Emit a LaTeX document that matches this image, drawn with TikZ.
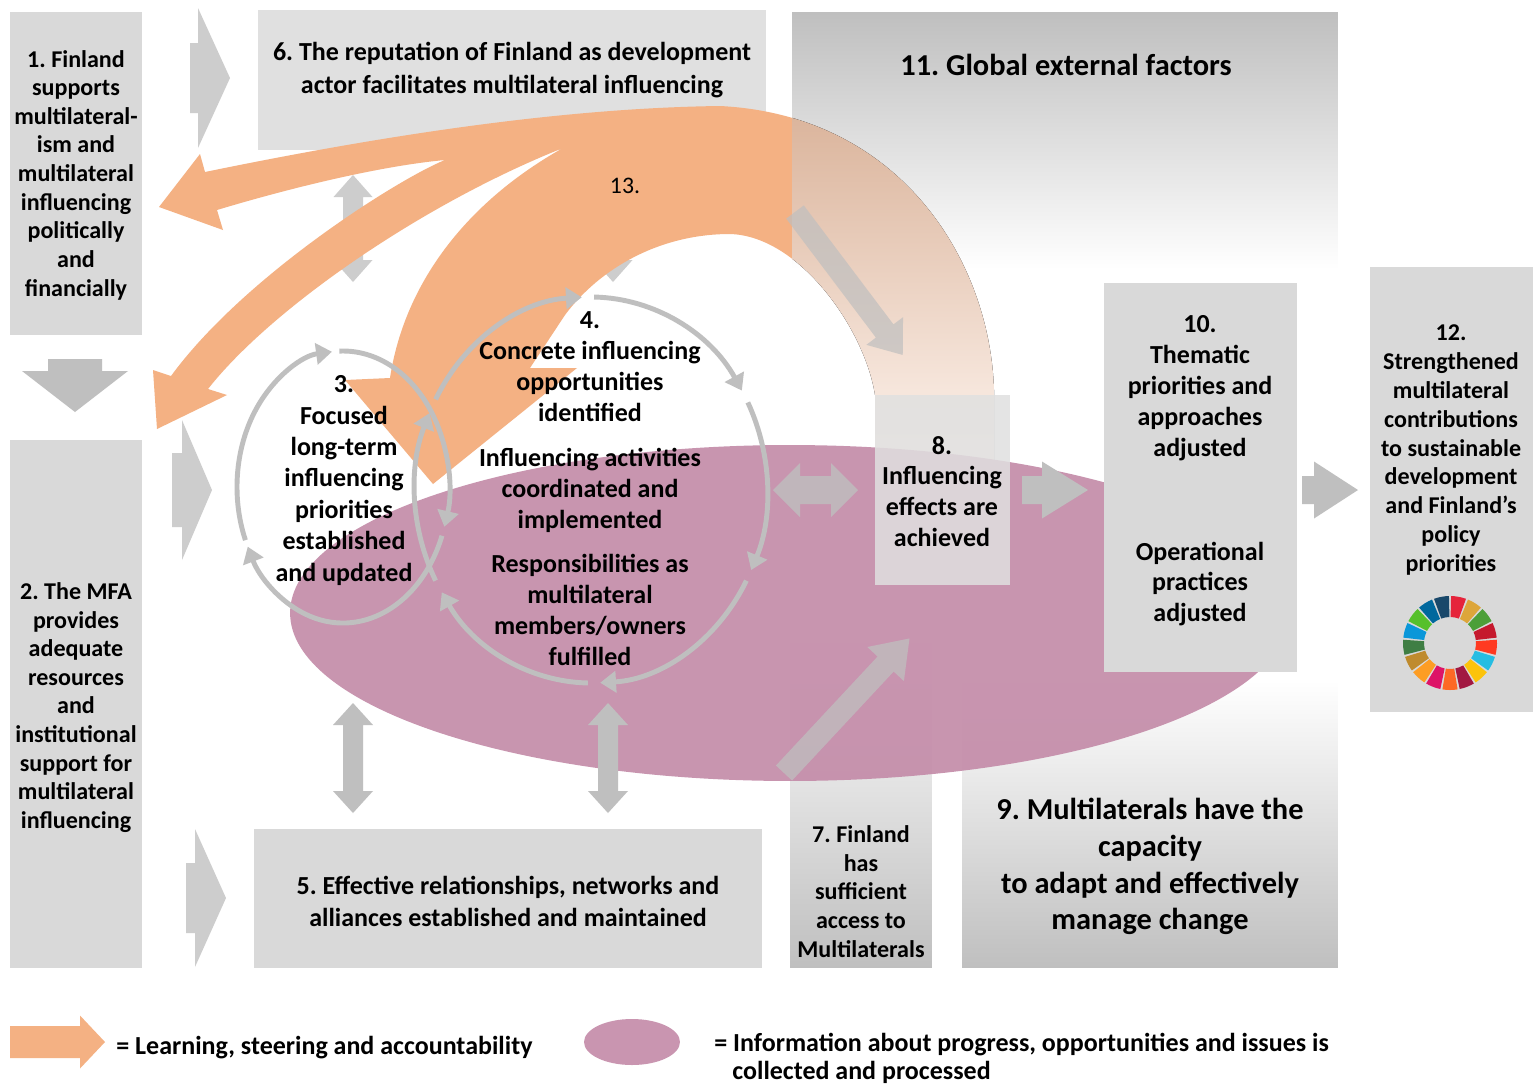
\documentclass[tikz,border=0pt]{standalone}
\usepackage{fontspec}
\setmainfont{Carlito}
\frenchspacing
\usetikzlibrary{arrows.meta,shapes.geometric,calc}
\definecolor{boxg}{HTML}{D9D9D9}
\definecolor{boxl}{HTML}{E0E0E0}
\definecolor{arrg}{HTML}{BFBFBF}
\definecolor{arrl}{HTML}{CDCDCD}
\definecolor{orf}{HTML}{F4B183}
\definecolor{orA}{HTML}{DAB39A}
\definecolor{orB}{HTML}{F1CCB2}
\definecolor{orC}{HTML}{FEF4EE}
\definecolor{ell}{HTML}{C48CA9}
\definecolor{elll}{HTML}{C995B0}
\definecolor{gdark}{HTML}{BFBFBF}
\definecolor{sdgA}{HTML}{E5243B}\definecolor{sdgB}{HTML}{DDA63A}\definecolor{sdgC}{HTML}{4C9F38}
\definecolor{sdgD}{HTML}{C5192D}\definecolor{sdgE}{HTML}{FF3A21}\definecolor{sdgF}{HTML}{26BDE2}
\definecolor{sdgG}{HTML}{FCC30B}\definecolor{sdgH}{HTML}{A21942}\definecolor{sdgI}{HTML}{FD6925}
\definecolor{sdgJ}{HTML}{DD1367}\definecolor{sdgK}{HTML}{FD9D24}\definecolor{sdgL}{HTML}{BF8B2E}
\definecolor{sdgM}{HTML}{3F7E44}\definecolor{sdgN}{HTML}{0A97D9}\definecolor{sdgO}{HTML}{56C02B}
\definecolor{sdgP}{HTML}{00689D}\definecolor{sdgQ}{HTML}{19486A}
\tikzset{
  pics/blockarrow/.style n args={4}{code={
    \fill (0,{-#2/2}) -- ({#1-#4},{-#2/2}) -- ({#1-#4},{-#3/2}) -- (#1,0) -- ({#1-#4},{#3/2}) -- ({#1-#4},{#2/2}) -- (0,{#2/2}) -- cycle;}},
  pics/dblarrow/.style n args={4}{code={
    \fill (0,0) -- (#4,{-#3/2}) -- (#4,{-#2/2}) -- ({#1-#4},{-#2/2}) -- ({#1-#4},{-#3/2}) -- (#1,0) -- ({#1-#4},{#3/2}) -- ({#1-#4},{#2/2}) -- (#4,{#2/2}) -- (#4,{#3/2}) -- cycle;}},
  box/.style={rectangle,inner sep=0pt,outer sep=0pt,draw=none},
  circ/.style={draw=arrg,line width=2.8pt,-{Triangle[length=9pt,width=12pt]}},
  fA/.style={font=\fontsize{13.7}{16.3}\selectfont\bfseries,align=center,inner sep=0pt},
  fB/.style={font=\fontsize{14.8}{17.6}\selectfont\bfseries,align=center,inner sep=0pt},
  fC/.style={font=\fontsize{17.3}{21}\selectfont\bfseries,align=center,inner sep=0pt},
  fL/.style={font=\fontsize{14.8}{17}\selectfont\bfseries,inner sep=0pt,anchor=west},
}
\begin{document}
\begin{tikzpicture}[x=0.02cm,y=-0.02cm]
\useasboundingbox (0,0) rectangle (1535,1086);
\fill[white] (0,0) rectangle (1535,1086);
% gradient boxes
\node[box,top color=gdark,bottom color=white,minimum width=10.92cm,minimum height=5.16cm] (b11) at (1065,141) {};
\node[box,top color=white,bottom color=gdark,minimum width=7.52cm,minimum height=5.76cm] (b9) at (1150,824) {};
\node[box,top color=white,bottom color=gdark,minimum width=2.84cm,minimum height=6.56cm] (b7) at (861,804) {};
% plain boxes
\node[box,fill=boxg,minimum width=2.64cm,minimum height=6.46cm] (b1) at (76,173.5) {};
\node[box,fill=boxg,minimum width=2.64cm,minimum height=10.56cm] (b2) at (76,704) {};
\node[box,fill=boxl,minimum width=10.16cm,minimum height=2.8cm] (b6) at (512,80) {};
\node[box,fill=boxg,minimum width=10.16cm,minimum height=2.78cm] (b5) at (508,898.5) {};
\node[box,fill=boxg,minimum width=3.26cm,minimum height=8.9cm] (b12) at (1451.5,489.5) {};
% light block arrows on the left
\pic[fill=arrl] at (190,78) {blockarrow={40}{70}{140}{32}};
\pic[fill=arrl] at (172,490) {blockarrow={40}{74}{140}{30}};
\pic[fill=arrl] at (186,898) {blockarrow={40}{70}{138}{31}};
\pic[fill=arrg,rotate=-90] at (75,359) {blockarrow={53}{54}{106}{41}};
% upper double arrows (partly hidden)
\pic[fill=arrl,rotate=-90] at (353,175) {dblarrow={107}{20}{39}{22}};
\pic[fill=arrl,rotate=-90] at (613,175) {dblarrow={107}{20}{39}{22}};
% orange learning arrows
\begin{scope}
\clip (0,0) rectangle (792,500);
\fill[orf] (994,470) -- (994,390) .. controls (990,260) and (900,115) .. (720,106)
 .. controls (560,108) and (380,136) .. (205,172)
 -- (200,154) -- (159,207) -- (223,230) -- (217,210)
 .. controls (290,188) and (380,166) .. (445,160)
 .. controls (400,178) and (245,275) .. (171,376)
 -- (153,370) -- (157,429) -- (227,395) -- (208,389)
 .. controls (270,310) and (420,205) .. (563,148)
 .. controls (470,200) and (405,280) .. (390,378)
 -- (345,380) -- (433,484) -- (577,368) -- (530,368)
 -- (565,315) .. controls (600,268) and (660,234) .. (730,234)
 .. controls (800,236) and (865,330) .. (875,395) -- (875,470) -- cycle;
\end{scope}
\begin{scope}
\clip (792,0) rectangle (1010,480);
\fill[top color=orA,middle color=orB,bottom color=orC] (994,470) -- (994,390) .. controls (990,260) and (900,115) .. (720,106)
 -- (730,234) .. controls (800,236) and (865,330) .. (875,395) -- (875,470) -- cycle;
\end{scope}
% ellipse
\node[ellipse,fill=ell,fill opacity=0.92,minimum width=20cm,minimum height=6.72cm,inner sep=0pt] (ell) at (790,613) {};
% circles
\coordinate (c3) at (343,487);
\coordinate (c4) at (591,490);
\draw[circ] (c3) ++(-203:106 and 136) arc[start angle=-203,end angle=-96,x radius=106,y radius=136];
\draw[circ] (c3) ++(-92:106 and 136) arc[start angle=-92,end angle=17,x radius=106,y radius=136];
\draw[circ] (c3) ++(21:106 and 136) arc[start angle=21,end angle=154,x radius=106,y radius=136];
\draw[circ] (c4) ++(-152:176 and 193) arc[start angle=-152,end angle=-93,x radius=176,y radius=193];
\draw[circ] (c4) ++(-89:176 and 193) arc[start angle=-89,end angle=-31,x radius=176,y radius=193];
\draw[circ] (c4) ++(-27:176 and 193) arc[start angle=-27,end angle=24.5,x radius=176,y radius=193];
\draw[circ] (c4) ++(28:176 and 193) arc[start angle=28,end angle=87,x radius=176,y radius=193];
\draw[circ] (c4) ++(91:176 and 193) arc[start angle=91,end angle=148,x radius=176,y radius=193];
\draw[circ] (c4) ++(152:176 and 193) arc[start angle=152,end angle=203.5,x radius=176,y radius=193];
% right boxes
\node[box,fill=boxl,fill opacity=0.85,minimum width=2.7cm,minimum height=3.8cm] (b8) at (942.5,490) {};
\node[box,fill=boxg,minimum width=3.86cm,minimum height=7.78cm] (b10) at (1200.5,477.5) {};
% grey arrows
\pic[fill=arrg] at (1022,490) {blockarrow={66}{28}{57}{46}};
\pic[fill=arrg] at (1302,490) {blockarrow={56}{28}{57}{44}};
\pic[fill=arrg,fill opacity=0.8] at (773,490) {dblarrow={85}{28}{54}{27}};
\pic[fill=arrg,rotate=-90] at (353,703) {dblarrow={110}{20}{40}{22}};
\pic[fill=arrg,rotate=-90] at (608,703) {dblarrow={110}{20}{40}{22}};
\pic[fill=arrg,fill opacity=0.7,rotate=-53] at (795,212) {blockarrow={179}{22}{46}{30}};
\pic[fill=arrg,fill opacity=0.75,rotate=47] at (784,773) {blockarrow={184}{22}{50}{35}};
% texts
\node[fA] (t1) at (76,175) {1. Finland\\supports\\multilateral-\\ism and\\multilateral\\influencing\\politically\\and\\financially};
\node[fA] (t2) at (76,707.5) {2. The MFA\\provides\\adequate\\resources\\and\\institutional\\support for\\multilateral\\influencing};
\node[fB,font=\fontsize{14.8}{18.7}\selectfont\bfseries] (t6) at (512,70) {6. The reputation of Finland as development\\actor facilitates multilateral influencing};
\node[fC] (t11) at (1066,65) {11. Global external factors};
\node[fB,font=\fontsize{14.8}{17.9}\selectfont\bfseries] (t3) at (344,480.5) {3.\\Focused\\long-term\\influencing\\priorities\\established\\and updated};
\node[fB] (t4a) at (590,367) {4.\\Concrete influencing\\opportunities\\identified};
\node[fB] (t4b) at (590,490.5) {Influencing activities\\coordinated and\\implemented};
\node[fB] (t4c) at (590,610) {Responsibilities as\\multilateral\\members/owners\\fulfilled};
\node[fB] (t8) at (942,491.5) {8.\\Influencing\\effects are\\achieved};
\node[fB] (t10a) at (1200,388.5) {10.\\Thematic\\priorities and\\approaches\\adjusted};
\node[fB] (t10b) at (1200,584) {Operational\\practices\\adjusted};
\node[fA,font=\fontsize{13.7}{16.4}\selectfont\bfseries] (t12) at (1451,450) {12.\\Strengthened\\multilateral\\contributions\\to sustainable\\development\\and Finland’s\\policy\\priorities};
\node[fB,font=\fontsize{14.8}{18.2}\selectfont\bfseries] (t5) at (508,901) {5. Effective relationships, networks and\\alliances established and maintained};
\node[fA] (t7) at (861,891.5) {7. Finland\\has\\sufficient\\access to\\Multilaterals};
\node[fC] (t9) at (1150,866.5) {9. Multilaterals have the\\capacity\\to adapt and effectively\\manage change};
\node[font=\fontsize{13.5}{16}\selectfont,inner sep=0pt] (t13) at (625,186) {13.};
% SDG wheel
\coordinate (sdg) at (1450,643);
\foreach \i/\c in {0/sdgA,1/sdgB,2/sdgC,3/sdgD,4/sdgE,5/sdgF,6/sdgG,7/sdgH,8/sdgI,9/sdgJ,10/sdgK,11/sdgL,12/sdgM,13/sdgN,14/sdgO,15/sdgP,16/sdgQ}{
  \pgfmathsetmacro\aa{-90+\i*360/17+1.3}
  \pgfmathsetmacro\ab{-90+(\i+1)*360/17-1.3}
  \fill[\c] ($(sdg)+(\aa:47)$) arc[start angle=\aa,end angle=\ab,radius=47] -- ($(sdg)+(\ab:26)$) arc[start angle=\ab,end angle=\aa,radius=26] -- cycle;
}
% legend
\pic[fill=orf] at (10,1042) {blockarrow={95}{32}{53}{25}};
\node[fL] (l1) at (116,1048) {= Learning, steering and accountability};
\node[ellipse,fill=elll,minimum width=1.92cm,minimum height=0.92cm,inner sep=0pt] (lell) at (632,1042) {};
\node[fL] (l2) at (714,1045) {= Information about progress, opportunities and issues is};
\node[fL] (l3) at (732,1072) {collected and processed};
\end{tikzpicture}
\end{document}
